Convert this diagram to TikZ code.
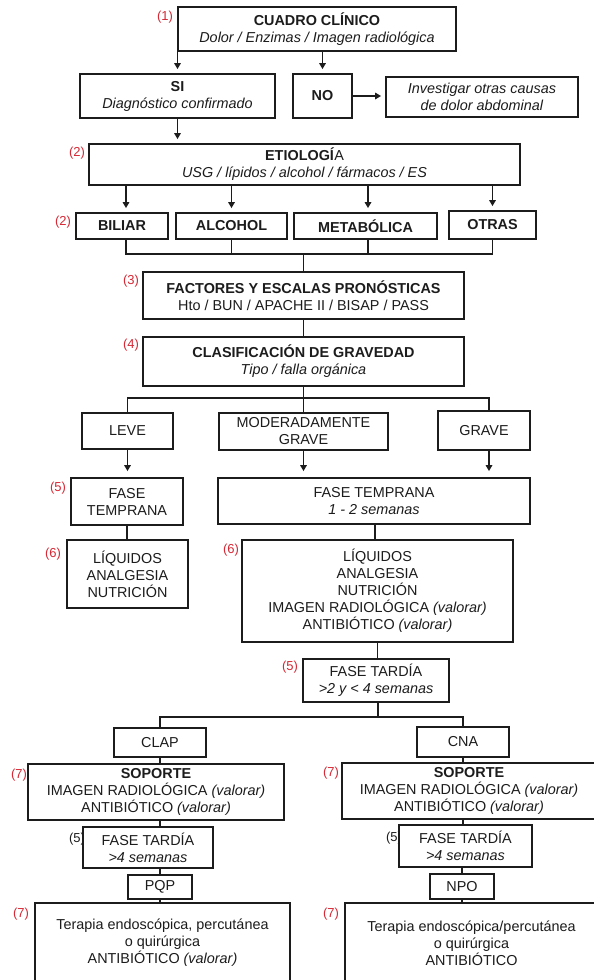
\documentclass[tikz,border=0pt]{standalone}
\usepackage{fontspec}
\setmainfont{Liberation Sans}
\usetikzlibrary{arrows.meta}
\definecolor{labred}{RGB}{214,40,52}
\definecolor{ink}{RGB}{28,28,28}
\tikzset{
  box/.style={draw=ink, line width=1.8pt, fill=white, rectangle, inner sep=0pt, align=center, text=ink, font=\fontsize{14.4}{17}\selectfont},
  lab/.style={text=labred, font=\fontsize{13}{15}\selectfont, inner sep=0pt},
  con/.style={draw=ink, line width=1.8pt},
  arr/.style={con, -{Triangle[length=6pt,width=6.5pt]}, shorten >=4pt},
}
\begin{document}
\begin{tikzpicture}[x=1pt,y=-1pt]
\fill[white] (0,0) rectangle (594,980);
\clip (0,0) rectangle (594,980);
% step labels
\node[lab] (l1) at (165,17) {(1)};
\node[lab] (l2a) at (77,153) {(2)};
\node[lab] (l2b) at (63,222) {(2)};
\node[lab] (l3) at (131,281) {(3)};
\node[lab] (l4) at (131,345) {(4)};
\node[lab] (l5a) at (58,488) {(5)};
\node[lab] (l6a) at (53,554) {(6)};
\node[lab] (l6b) at (231,550) {(6)};
\node[lab] (l5b) at (290,667) {(5)};
\node[lab] (l7a) at (19,775) {(7)};
\node[lab] (l7b) at (331,773) {(7)};
\node[lab,text=ink] (l5c) at (77,839) {(5)};
\node[lab,text=ink] (l5d) at (394,838) {(5)};
\node[lab] (l7c) at (21,914) {(7)};
\node[lab] (l7d) at (331,914) {(7)};
% boxes
\node[box, minimum width=278pt, minimum height=44pt] (cc) at (317,29) {\textbf{CUADRO CLÍNICO}\\\textit{Dolor / Enzimas / Imagen radiológica}};
\node[box, minimum width=195pt, minimum height=44pt] (si) at (177.5,96) {\textbf{SI}\\\textit{Diagnóstico confirmado}};
\node[box, minimum width=59pt, minimum height=44pt] (no) at (322.5,96) {\textbf{NO}};
\node[box, minimum width=192pt, minimum height=40pt] (inv) at (482,97) {\textit{Investigar otras causas}\\\textit{de dolor abdominal}};
\node[box, minimum width=431pt, minimum height=41pt] (etio) at (304.5,164.5) {\textbf{ETIOLOGÍ}A\\\textit{USG / lípidos / alcohol / fármacos / ES}};
\node[box, minimum width=92pt, minimum height=26pt] (bil) at (122,226) {\textbf{BILIAR}};
\node[box, minimum width=111pt, minimum height=26pt] (alc) at (231.5,226) {\textbf{ALCOHOL}};
\node[box, minimum width=143pt, minimum height=26pt] (met) at (365.5,226) {\textbf{METABÓLICA}};
\node[box, minimum width=87pt, minimum height=28pt] (otr) at (492.5,225) {\textbf{OTRAS}};
\node[box, minimum width=321pt, minimum height=47pt] (fac) at (303.5,295.5) {\textbf{FACTORES Y ESCALAS PRONÓSTICAS}\\Hto / BUN / APACHE II / BISAP / PASS};
\node[box, minimum width=321pt, minimum height=49pt] (cla) at (303.5,361.5) {\textbf{CLASIFICACIÓN DE GRAVEDAD}\\\textit{Tipo / falla orgánica}};
\node[box, minimum width=91pt, minimum height=36pt] (lev) at (127.5,431) {LEVE};
\node[box, minimum width=169pt, minimum height=37pt] (mod) at (303.5,431.5) {MODERADAMENTE\\GRAVE};
\node[box, minimum width=92pt, minimum height=39pt] (gra) at (484,430.5) {GRAVE};
\node[box, minimum width=112pt, minimum height=47pt] (fts) at (127,501.5) {FASE\\TEMPRANA};
\node[box, minimum width=312pt, minimum height=46pt] (ftb) at (374,501) {FASE TEMPRANA\\\textit{1 - 2 semanas}};
\node[box, minimum width=121pt, minimum height=68pt] (liqs) at (127.5,574) {LÍQUIDOS\\ANALGESIA\\NUTRICIÓN};
\node[box, minimum width=271pt, minimum height=102pt] (liqb) at (377.5,591) {LÍQUIDOS\\ANALGESIA\\NUTRICIÓN\\IMAGEN RADIOLÓGICA \textit{(valorar)}\\ANTIBIÓTICO \textit{(valorar)}};
\node[box, minimum width=146pt, minimum height=43pt] (ftt) at (376,680.5) {FASE TARDÍA\\\textit{>2 y < 4 semanas}};
\node[box, minimum width=92pt, minimum height=29pt] (clap) at (160,742.5) {CLAP};
\node[box, minimum width=92pt, minimum height=30pt] (cna) at (463,742) {CNA};
\node[box, minimum width=256pt, minimum height=56pt] (sopl) at (156,792) {\textbf{SOPORTE}\\IMAGEN RADIOLÓGICA \textit{(valorar)}\\ANTIBIÓTICO \textit{(valorar)}};
\node[box, minimum width=254pt, minimum height=56pt] (sopr) at (469,791) {\textbf{SOPORTE}\\IMAGEN RADIOLÓGICA \textit{(valorar)}\\ANTIBIÓTICO \textit{(valorar)}};
\node[box, minimum width=130pt, minimum height=41pt] (ftl) at (148,847.5) {FASE TARDÍA\\\textit{>4 semanas}};
\node[box, minimum width=133pt, minimum height=42pt] (ftr) at (465.5,846) {FASE TARDÍA\\\textit{>4 semanas}};
\node[box, minimum width=64pt, minimum height=24pt] (pqp) at (160,887) {PQP};
\node[box, minimum width=64pt, minimum height=25pt] (npo) at (462,886.5) {NPO};
\node[box, minimum width=255pt, minimum height=80pt] (finl) at (162.5,943) {Terapia endoscópica, percutánea\\o quirúrgica\\ANTIBIÓTICO \textit{(valorar)}};
\node[box, minimum width=253pt, minimum height=80pt] (finr) at (471.5,943) {Terapia endoscópica/percutánea\\o quirúrgica\\ANTIBIÓTICO};
% helper coordinates
\coordinate (m1) at (303.5,254);
\coordinate (m2) at (303.5,398);
\coordinate (m3) at (378,717);
% connectors
\draw[arr] (cc.south -| si.north) -- (si.north);
\draw[arr] (cc.south -| no.north) -- (no.north);
\draw[arr] (no.east) -- (no.east -| inv.west);
\draw[arr] (si.south) -- (si.south |- etio.north);
\draw[arr] ([xshift=4pt]etio.south -| bil.north) -- ([xshift=4pt]bil.north);
\draw[arr] (etio.south -| alc.north) -- (alc.north);
\draw[arr] ([xshift=2.5pt]etio.south -| met.north) -- ([xshift=2.5pt]met.north);
\draw[arr] (etio.south -| otr.north) -- (otr.north);
\draw[con] ([xshift=4pt]bil.south) -- ([xshift=4pt]bil.south |- m1) -- (otr.south |- m1) -- (otr.south);
\draw[con] (alc.south) -- (alc.south |- m1);
\draw[con] ([xshift=2.5pt]met.south) -- ([xshift=2.5pt]met.south |- m1);
\draw[con] (m1) -- (fac.north);
\draw[con] (fac.south) -- (cla.north);
\draw[con] (cla.south) -- (mod.north);
\draw[con] (lev.north) -- (lev.north |- m2) -- ([xshift=5pt]gra.north |- m2) -- ([xshift=5pt]gra.north);
\draw[arr,shorten >=6pt] (lev.south) -- (lev.south |- fts.north);
\draw[arr,shorten >=6pt] (mod.south) -- (mod.south |- ftb.north);
\draw[arr,shorten >=6pt] ([xshift=5pt]gra.south) -- ([xshift=5pt]gra.south |- ftb.north);
\draw[con] (fts.south) -- (fts.south |- liqs.north);
\draw[con] ([xshift=1pt]ftb.south) -- ([xshift=1pt]ftb.south |- liqb.north);
\draw[con] (liqb.south) -- (liqb.south |- ftt.north);
\draw[con] (ftt.south -| m3) -- (m3);
\draw[con] (clap.north) -- (clap.north |- m3) -- (cna.north |- m3) -- (cna.north);
\draw[con] (clap.south) -- (clap.south |- sopl.north);
\draw[con] (sopl.south -| clap.south) -- (clap.south |- ftl.north);
\draw[con] (pqp.north |- ftl.south) -- (pqp.north);
\draw[con] (pqp.south) -- (pqp.south |- finl.north);
\draw[con] (cna.south) -- (cna.south |- sopr.north);
\draw[con] (sopr.south -| cna.south) -- (cna.south |- ftr.north);
\draw[con] (npo.north |- ftr.south) -- (npo.north);
\draw[con] (npo.south) -- (npo.south |- finr.north);
\end{tikzpicture}
\end{document}
